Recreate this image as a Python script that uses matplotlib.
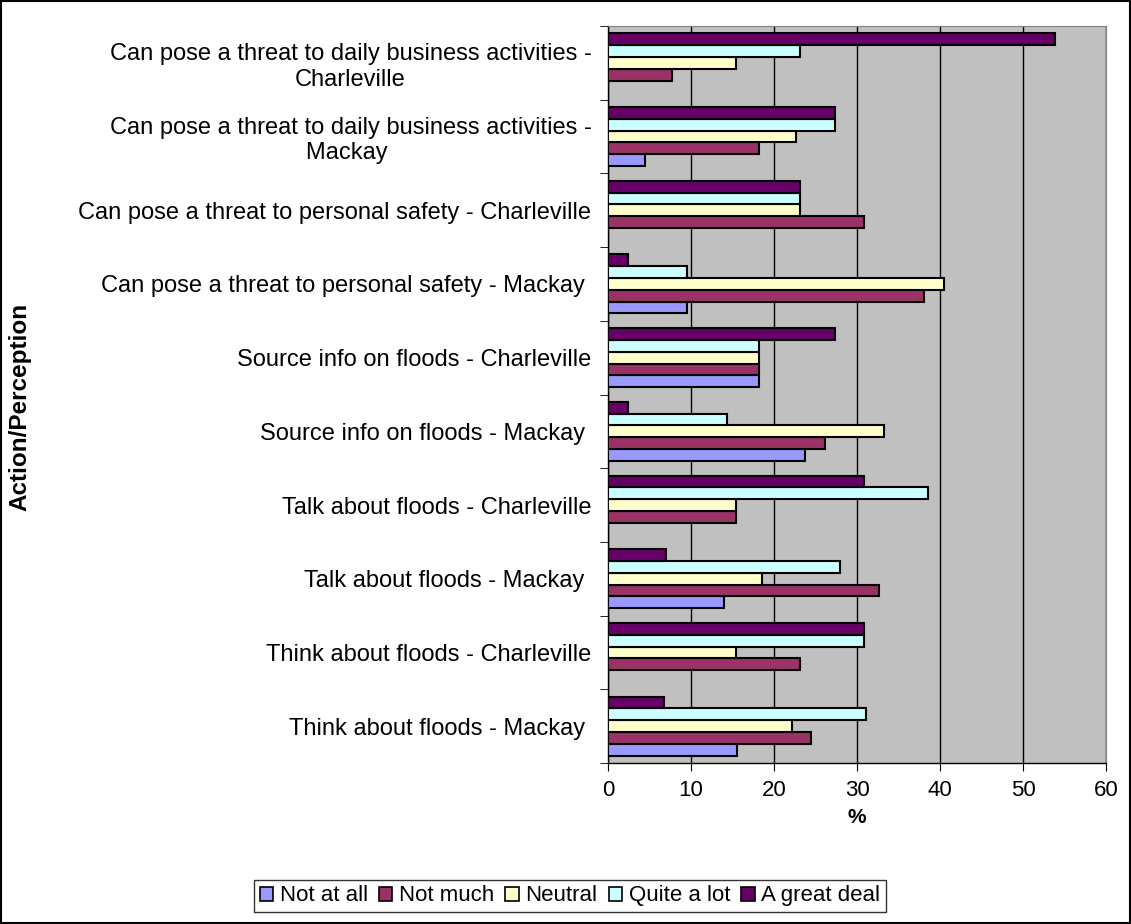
import numpy as np
import matplotlib.pyplot as plt
from matplotlib.patches import Rectangle

plt.rcParams['font.family'] = ['Liberation Sans', 'DejaVu Sans']

# categories, listed top to bottom
categories = [
    'Can pose a threat to daily business activities -\nCharleville',
    'Can pose a threat to daily business activities -\nMackay ',
    'Can pose a threat to personal safety - Charleville',
    'Can pose a threat to personal safety - Mackay ',
    'Source info on floods - Charleville',
    'Source info on floods - Mackay ',
    'Talk about floods - Charleville',
    'Talk about floods - Mackay ',
    'Think about floods - Charleville',
    'Think about floods - Mackay ',
]

series_names = ['Not at all', 'Not much', 'Neutral', 'Quite a lot', 'A great deal']
colors = ['#9999FF', '#993366', '#FFFFCC', '#CCFFFF', '#660066']

not_at_all = [0, 4.5, 0, 9.5, 18.2, 23.7, 0, 14.0, 0, 15.5]
not_much = [7.7, 18.2, 30.8, 38.1, 18.2, 26.1, 15.4, 32.6, 23.1, 24.4]
neutral = [15.4, 22.7, 23.1, 40.5, 18.2, 33.3, 15.4, 18.6, 15.4, 22.2]
quite_a_lot = [23.1, 27.3, 23.1, 9.5, 18.2, 14.3, 38.5, 27.9, 30.8, 31.1]
great_deal = [53.8, 27.3, 23.1, 2.4, 27.3, 2.4, 30.8, 7.0, 30.8, 6.7]

series = [not_at_all, not_much, neutral, quite_a_lot, great_deal]

fig = plt.figure(figsize=(11.31, 9.24), dpi=100)
ax = fig.add_axes([0.5376, 0.1742, 0.4403, 0.7977])
ax.set_facecolor('#C0C0C0')

n = len(categories)
ypos = np.arange(n)[::-1]
h = 0.16
for j, (vals, c, name) in enumerate(zip(series, colors, series_names)):
    # zero values get no outline so nothing shows
    lw = [1.5 if v > 0 else 0 for v in vals]
    ax.barh(ypos + (j - 2) * h, vals, height=h, color=c, edgecolor='black',
            linewidth=lw, label=name, zorder=3)

ax.set_xlim(0, 60)
ax.set_ylim(-0.5, n - 0.5)
ax.set_xticks(range(0, 61, 10))
ax.xaxis.grid(True, color='black', linewidth=1, zorder=1)
ax.set_yticks(ypos)
ax.set_yticklabels(categories, fontsize=17, multialignment='center', linespacing=1.2)
ax.set_yticks(np.arange(n + 1) - 0.5, minor=True)
ax.tick_params(axis='y', which='major', length=0, pad=12)
ax.tick_params(axis='y', which='minor', length=6, direction='out')
ax.tick_params(axis='x', labelsize=16, length=6, direction='out', pad=6)
for s in ['top', 'right']:
    ax.spines[s].set_color('#808080')
ax.spines['left'].set_linewidth(1)
ax.spines['bottom'].set_linewidth(1)

ax.set_xlabel('%', fontsize=15, fontweight='bold', labelpad=5)
fig.text(0.018, 0.56, 'Action/Perception', rotation=90, fontsize=17.5,
         fontweight='bold', ha='center', va='center')

leg = fig.legend(loc='lower center', bbox_to_anchor=(0.504, 0.013), ncol=5,
                 fontsize=16, frameon=True, fancybox=False, edgecolor='black',
                 handlelength=0.6, handleheight=0.6, handletextpad=0.3,
                 columnspacing=0.5, borderpad=0.25, borderaxespad=0)
leg.get_frame().set_linewidth(1)
for p in leg.get_patches():
    p.set_linewidth(1.2)

fig.patches.append(Rectangle((0.001, 0.001), 0.998, 0.998, transform=fig.transFigure,
                             fill=False, edgecolor='black', linewidth=1.5))

fig.savefig('out.png', dpi=100)
